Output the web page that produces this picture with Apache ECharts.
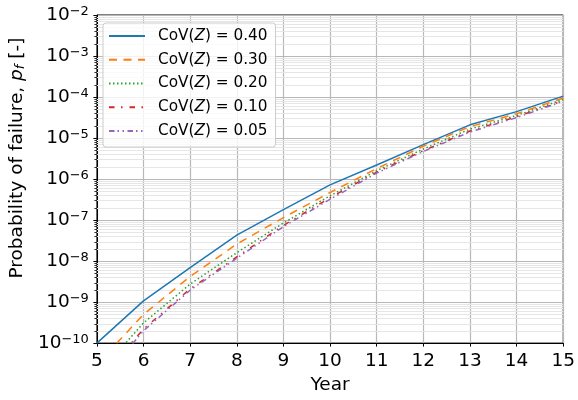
<!DOCTYPE html>
<html>
<head>
<meta charset="utf-8">
<script src="https://cdn.jsdelivr.net/npm/echarts@6/dist/echarts.min.js"></script>
<style>
html,body{margin:0;padding:0;background:#fff;}
#c{width:578px;height:400px;}
</style>
</head>
<body>
<div id="c"></div>
<script>
// ---- data ----
const years = [5, 6, 7, 8, 9, 10, 11, 12, 13, 14, 15];
const covLabels = ['0.40', '0.30', '0.20', '0.10', '0.05'];
const pfCov040 = [1.0e-10, 1.07e-9, 6.9e-9, 4.3e-8, 1.8e-7, 7.2e-7, 2.2e-6, 6.9e-6, 2.1e-5, 4.4e-5, 1.05e-4];
const pfCov030 = [3.0e-11, 5.0e-10, 4.2e-9, 2.6e-8, 1.15e-7, 4.7e-7, 1.8e-6, 6.3e-6, 1.9e-5, 3.9e-5, 9.5e-5];
const pfCov020 = [1.65e-11, 3.1e-10, 2.75e-9, 1.6e-8, 8.5e-8, 3.9e-7, 1.6e-6, 5.4e-6, 1.65e-5, 3.55e-5, 8.7e-5];
const pfCov010 = [1.1e-11, 2.2e-10, 2.1e-9, 1.26e-8, 7.4e-8, 3.5e-7, 1.48e-6, 4.9e-6, 1.48e-5, 3.3e-5, 8.1e-5];
const pfCov005 = [8.9e-12, 2.0e-10, 1.95e-9, 1.17e-8, 6.9e-8, 3.2e-7, 1.4e-6, 4.7e-6, 1.4e-5, 3.15e-5, 7.9e-5];
const yDecadeMin = -10, yDecadeMax = -2;

const allSeries = [pfCov040, pfCov030, pfCov020, pfCov010, pfCov005];
const colors = ['#1f77b4', '#ff7f0e', '#2ca02c', '#d62728', '#9467bd'];
const dashes = ['solid', [8, 6.5], [1.5, 2.5], [5.5, 6.5, 1.5, 7], [5.5, 3, 1.5, 3.5, 1.5, 3.5]];

// minor (2..9 x 10^k) positions for grid lines / ticks
const minorVals = [];
for (let k = yDecadeMin; k < yDecadeMax; k++) {
  for (let m = 2; m <= 9; m++) minorVals.push(m * Math.pow(10, k));
}

const FONT = 'DejaVu Sans';
const FS = 18.5;   // axis text
const FSS = 13;    // superscripts
const FL = 15.3;   // legend text

const series = allSeries.map((arr, i) => ({
  name: covLabels[i],
  type: 'line',
  data: years.map((y, j) => [y, arr[j]]),
  symbol: 'none',
  showSymbol: false,
  clip: true,
  z: 3,
  lineStyle: { color: colors[i], width: 1.5, type: dashes[i], cap: 'butt' },
  itemStyle: { color: colors[i] }
}));

// helper: minor grid lines and minor ticks on the y axis (positions from the axis scale)
series.push({
  name: 'minor',
  type: 'custom',
  data: minorVals.map(v => [years[0], v]),
  silent: true,
  clip: false,
  z: 1,
  renderItem: function (params, api) {
    const cs = params.coordSys;
    const y = Math.round(api.coord([api.value(0), api.value(1)])[1]) + 0.5;
    return {
      type: 'group',
      children: [
        { type: 'line', shape: { x1: cs.x, y1: y, x2: cs.x + cs.width, y2: y }, style: { stroke: '#e6e6e6', lineWidth: 1 }, z2: 0 },
        { type: 'line', shape: { x1: cs.x - 2.5, y1: y, x2: cs.x, y2: y }, style: { stroke: '#000', lineWidth: 0.8 }, z2: 1 }
      ]
    };
  }
});

const chart = echarts.init(document.getElementById('c'), null, { renderer: 'canvas' });
chart.setOption({
  animation: false,
  backgroundColor: '#fff',
  textStyle: { fontFamily: FONT },
  grid: { left: 95, right: 11, top: 15, bottom: 56, show: true, borderColor: '#000', borderWidth: 1, backgroundColor: 'transparent' },
  legend: {
    data: covLabels,
    orient: 'vertical',
    left: 103,
    top: 23,
    itemWidth: 36,
    itemHeight: 14,
    itemGap: 6.75,
    padding: [4.5, 8, 7.5, 5],
    backgroundColor: 'rgba(255,255,255,0.8)',
    borderColor: '#cccccc',
    borderWidth: 1,
    borderRadius: 3,
    itemStyle: { opacity: 0 },
    formatter: n => 'CoV({i|Z}) = ' + n,
    textStyle: {
      fontFamily: FONT, fontSize: FL, lineHeight: 17, color: '#000', padding: [0, 0, 0, 8],
      rich: { i: { fontFamily: FONT, fontSize: FL, lineHeight: 17, fontStyle: 'italic', color: '#000' } }
    }
  },
  xAxis: {
    type: 'value',
    min: 5, max: 15, interval: 1,
    name: 'Year',
    nameLocation: 'middle',
    nameGap: 30,
    nameTextStyle: { fontFamily: FONT, fontSize: FS, color: '#000' },
    axisLine: { show: true, lineStyle: { color: '#000', width: 1 } },
    axisTick: { show: true, length: 3.5, inside: false, lineStyle: { color: '#000', width: 1 } },
    axisLabel: { fontFamily: FONT, fontSize: FS, color: '#000', margin: 9 },
    splitLine: { show: true, lineStyle: { color: '#b8b8b8', width: 1.2 } }
  },
  yAxis: {
    type: 'log',
    logBase: 10,
    min: Math.pow(10, yDecadeMin),
    max: Math.pow(10, yDecadeMax),
    splitNumber: 8,
    name: 'Probability of failure, {i|p}{sub|f} [-]',
    nameLocation: 'middle',
    nameRotate: 90,
    nameGap: 66,
    nameTextStyle: {
      fontFamily: FONT, fontSize: FS, color: '#000', padding: [0, 0, 0, 42],
      rich: {
        i: { fontFamily: FONT, fontSize: FS, fontStyle: 'italic', color: '#000' },
        sub: { fontFamily: FONT, fontSize: FSS, fontStyle: 'italic', color: '#000', verticalAlign: 'bottom', padding: [6, 0, 0, 0] }
      }
    },
    axisLine: { show: true, lineStyle: { color: '#000', width: 1 } },
    axisTick: { show: true, length: 3.5, inside: false, lineStyle: { color: '#000', width: 1 } },
    axisLabel: {
      margin: 8,
      formatter: function (v) {
        const e = Math.round(Math.log10(v));
        return '{b|10}{s|' + (e < 0 ? '\u2212' : '') + Math.abs(e) + '}';
      },
      rich: {
        b: { fontFamily: FONT, fontSize: FS, color: '#000', lineHeight: 20, verticalAlign: 'bottom', padding: [2.5, 0, 0, 0] },
        s: { fontFamily: FONT, fontSize: FSS, color: '#000', lineHeight: 13, verticalAlign: 'top' }
      }
    },
    splitLine: { show: true, lineStyle: { color: '#b8b8b8', width: 1.2 } }
  },
  series: series
});
</script>
</body>
</html>
